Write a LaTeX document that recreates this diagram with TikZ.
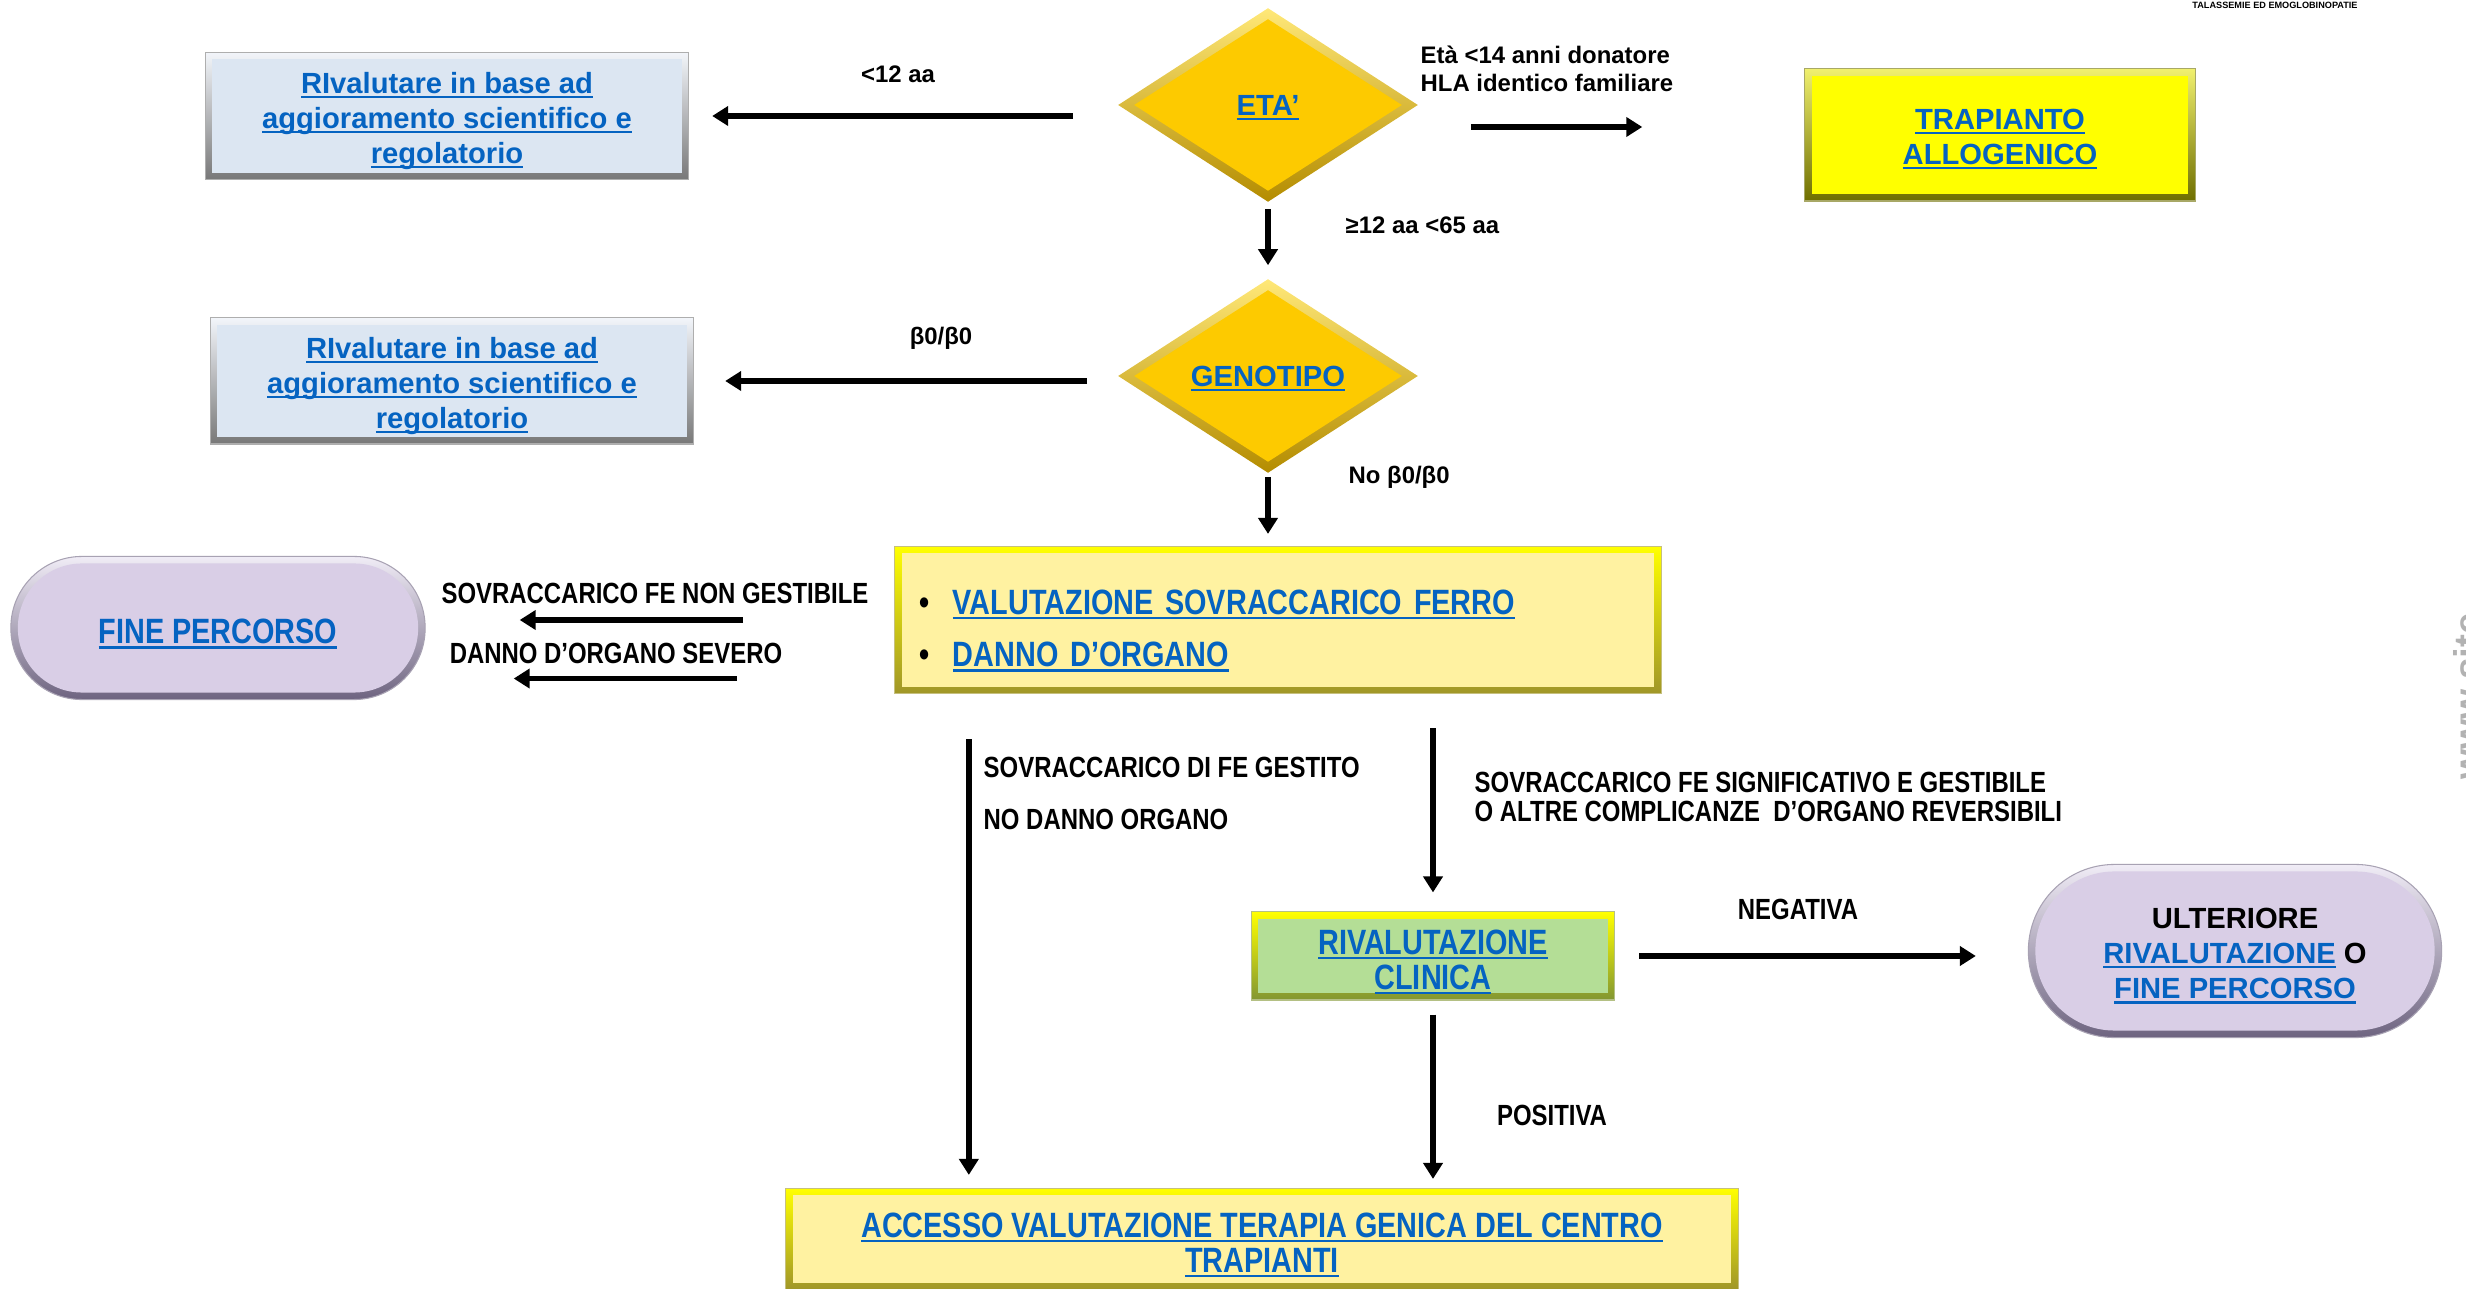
\documentclass[tikz,border=0pt]{standalone}
\usepackage{fontspec}
\setmainfont{Liberation Sans}
\newfontfamily\narrowfont[FakeStretch=0.82]{Liberation Sans}
\usepackage{tikz}
\usetikzlibrary{positioning,arrows.meta,calc,shapes.geometric}

\definecolor{linkblue}{RGB}{5,99,193}
\definecolor{rival_fill}{RGB}{220,230,242}
\definecolor{rival_top}{RGB}{242,245,250}
\definecolor{rival_bot}{RGB}{120,120,120}
\definecolor{trap_fill}{RGB}{255,255,0}
\definecolor{trap_top}{RGB}{240,240,110}
\definecolor{trap_bot}{RGB}{110,110,0}
\definecolor{cream_fill}{RGB}{255,242,161}
\definecolor{cream_top}{RGB}{255,255,0}
\definecolor{cream_bot}{RGB}{160,150,40}
\definecolor{green_fill}{RGB}{180,222,150}
\definecolor{green_bot}{RGB}{130,150,50}
\definecolor{lav_fill}{RGB}{217,206,230}
\definecolor{lav_top}{RGB}{240,236,246}
\definecolor{lav_bot}{RGB}{110,100,128}
\definecolor{gold_fill}{RGB}{253,202,0}
\definecolor{gold_top}{RGB}{255,232,120}
\definecolor{gold_bot}{RGB}{180,140,0}

\newcommand{\linktext}[1]{\textcolor{linkblue}{\setbox0\hbox{#1}\rlap{\rule[-1.3pt]{\wd0}{0.6pt}}\box0}}
\newcommand{\vpad}[1]{\rule{0pt}{#1}}

\begin{document}
\begin{tikzpicture}[x=0.01cm, y=-0.01cm,
		bevel_box/.style n args={3}{rectangle, top color=#1, bottom color=#2, draw=#2!60, line width=0.3pt, inner sep=0pt, align=center,
			path picture={\fill[#3] ([shift={(0.07cm,0.07cm)}]path picture bounding box.south west) rectangle ([shift={(-0.07cm,-0.07cm)}]path picture bounding box.north east);}},
		pill_box/.style 2 args={rectangle, rounded corners=#1, top color=lav_top, bottom color=lav_bot, draw=lav_bot!60, line width=0.3pt, inner sep=0pt, align=center,
			path picture={\fill[lav_fill, rounded corners=#2] ([shift={(0.07cm,0.07cm)}]path picture bounding box.south west) rectangle ([shift={(-0.07cm,-0.07cm)}]path picture bounding box.north east);}},
		gold_diamond/.style={diamond, minimum width=3.0cm, minimum height=1.94cm, inner sep=0pt, top color=gold_top, bottom color=gold_bot,
			path picture={\fill[gold_fill] ([xshift=0.16cm]path picture bounding box.west) -- ([yshift=-0.11cm]path picture bounding box.north) -- ([xshift=-0.16cm]path picture bounding box.east) -- ([yshift=0.11cm]path picture bounding box.south) -- cycle;}},
		box_txt/.style={font=\bfseries\fontsize{8.3}{10}\selectfont},
		narrow_txt/.style={font=\narrowfont\bfseries\fontsize{10}{10}\selectfont},
		small_txt/.style={font=\bfseries\fontsize{6.8}{8}\selectfont, inner sep=0pt},
		caps_txt/.style={font=\narrowfont\bfseries\fontsize{8.3}{8.5}\selectfont, inner sep=0pt},
		arrow_style/.style={-{Triangle[length=0.16cm, width=0.19cm]}, line width=1.6pt}
		]
		
		\useasboundingbox (0,0) rectangle (2466,1289);
		
		% decision diamonds
		\node[gold_diamond, box_txt] (eta) at (1268,105) {\vpad{7.4pt}\linktext{ETA’}};
		\node[gold_diamond, box_txt] (gen) at (1268,376) {\vpad{7.4pt}\linktext{GENOTIPO}};
		
		% boxes
		\node[bevel_box={rival_top}{rival_bot}{rival_fill}, minimum width=4.83cm, minimum height=1.27cm, box_txt] (rival_a) at (447,116)
			{\vpad{8.8pt}\linktext{RIvalutare in base ad}\\\linktext{aggioramento scientifico e}\\\linktext{regolatorio}};
		\node[bevel_box={rival_top}{rival_bot}{rival_fill}, minimum width=4.83cm, minimum height=1.26cm, box_txt] (rival_b) at (452,381)
			{\vpad{8.8pt}\linktext{RIvalutare in base ad}\\\linktext{aggioramento scientifico e}\\\linktext{regolatorio}};
		\node[bevel_box={trap_top}{trap_bot}{trap_fill}, minimum width=3.9cm, minimum height=1.32cm, box_txt] (trap) at (2000,135)
			{\vpad{8pt}\linktext{TRAPIANTO}\\\linktext{ALLOGENICO}};
		\node[bevel_box={cream_top}{cream_bot}{cream_fill}, minimum width=7.66cm, minimum height=1.47cm, text width=7.16cm, inner xsep=0.25cm, align=left,
			font=\narrowfont\bfseries\fontsize{10}{15}\selectfont] (valut) at (1278,620)
			{\vpad{13pt}\makebox[0.33cm][l]{•}\linktext{VALUTAZIONE SOVRACCARICO FERRO}\\\makebox[0.33cm][l]{•}\linktext{DANNO D’ORGANO}};
		\node[bevel_box={cream_top}{green_bot}{green_fill}, minimum width=3.63cm, minimum height=0.88cm, narrow_txt] (rivclin) at (1433,956)
			{\vpad{10.4pt}\linktext{RIVALUTAZIONE}\\\linktext{CLINICA}};
		\node[bevel_box={cream_top}{cream_bot}{cream_fill}, minimum width=9.52cm, minimum height=1.01cm, narrow_txt] (accesso) at (1262,1239)
			{\vpad{10.4pt}\linktext{ACCESSO VALUTAZIONE TERAPIA GENICA DEL CENTRO}\\\linktext{TRAPIANTI}};
		\node[pill_box={0.71cm}{0.64cm}, minimum width=4.14cm, minimum height=1.43cm, narrow_txt] (fine) at (218,628) {\vpad{10.4pt}\linktext{FINE PERCORSO}};
		\node[pill_box={0.86cm}{0.79cm}, minimum width=4.13cm, minimum height=1.73cm, box_txt] (ulter) at (2235,951)
			{\vpad{8.6pt}ULTERIORE\\\linktext{RIVALUTAZIONE} O\\\linktext{FINE PERCORSO}};
		
		% connectors
		\draw[arrow_style, shorten <=0.44cm, shorten >=0.23cm] (eta.west |- rival_a.east) -- (rival_a.east);
		\draw[arrow_style, shorten <=0.52cm, shorten >=1.62cm] ([yshift=0.08cm]eta.east |- trap.west) -- ([yshift=0.08cm]trap.west);
		\draw[arrow_style, shorten <=0.06cm, shorten >=0.13cm] (eta.south) -- (gen.north);
		\draw[arrow_style, shorten <=0.30cm, shorten >=0.31cm] (gen.west |- rival_b.east) -- (rival_b.east);
		\draw[arrow_style, shorten <=0.03cm, shorten >=0.12cm] (gen.south) -- (gen.south |- valut.north);
		\draw[arrow_style, shorten <=1.51cm, shorten >=0.94cm] (valut.west) -- (valut.west -| fine.east);
		\draw[arrow_style, shorten <=1.57cm, shorten >=0.88cm] ([yshift=-0.585cm]valut.west) -- ([yshift=-0.585cm]valut.west -| fine.east);
		\draw[arrow_style, shorten <=0.45cm, shorten >=0.13cm] ([xshift=-3.09cm]valut.south) -- ([xshift=-3.09cm]valut.south |- accesso.north);
		\draw[arrow_style, shorten <=0.34cm, shorten >=0.19cm] (valut.south -| rivclin.north) -- (rivclin.north);
		\draw[arrow_style, shorten <=0.24cm, shorten >=0.52cm] (rivclin.east) -- (rivclin.east -| ulter.west);
		\draw[arrow_style, shorten <=0.14cm, shorten >=0.09cm] (rivclin.south) -- (rivclin.south |- accesso.north);
		
		% labels
		\node[small_txt] (lbl_lt12) at (898,74) {<12 aa};
		\node[small_txt, anchor=west, align=left] (lbl_hla) at (1420,69) {Età <14 anni donatore\\HLA identico familiare};
		\node[small_txt, anchor=west] (lbl_ge12) at (1345,225) {≥12 aa <65 aa};
		\node[small_txt] (lbl_b0) at (941,338) {β0/β0};
		\node[small_txt, anchor=west] (lbl_nob0) at (1348,477) {No β0/β0};
		\node[caps_txt] (lbl_nongest) at (655,593) {SOVRACCARICO FE NON GESTIBILE};
		\node[caps_txt] (lbl_severo) at (616,653) {DANNO D’ORGANO SEVERO};
		\node[caps_txt, anchor=west] (lbl_gestito) at (983,767) {SOVRACCARICO DI FE GESTITO};
		\node[caps_txt, anchor=west] (lbl_nodanno) at (983,819) {NO DANNO ORGANO};
		\node[caps_txt, anchor=west, align=left] (lbl_signif) at (1474,797) {SOVRACCARICO FE SIGNIFICATIVO E GESTIBILE\\O ALTRE COMPLICANZE\ \ D’ORGANO REVERSIBILI};
		\node[caps_txt] (lbl_neg) at (1798,909) {NEGATIVA};
		\node[caps_txt] (lbl_pos) at (1552,1115) {POSITIVA};
		
		% logo text and side mark, cut by the page edge
		\node[font=\bfseries\fontsize{2.6}{3}\selectfont, inner sep=0pt] (logo_txt) at (2275,5) {TALASSEMIE ED EMOGLOBINOPATIE};
		\node[rotate=90, anchor=base west, text=gray!60, font=\bfseries\fontsize{11}{13}\selectfont, inner sep=0pt] (site_mark) at (2481,780) {www.site};
	\end{tikzpicture}
\end{document}
